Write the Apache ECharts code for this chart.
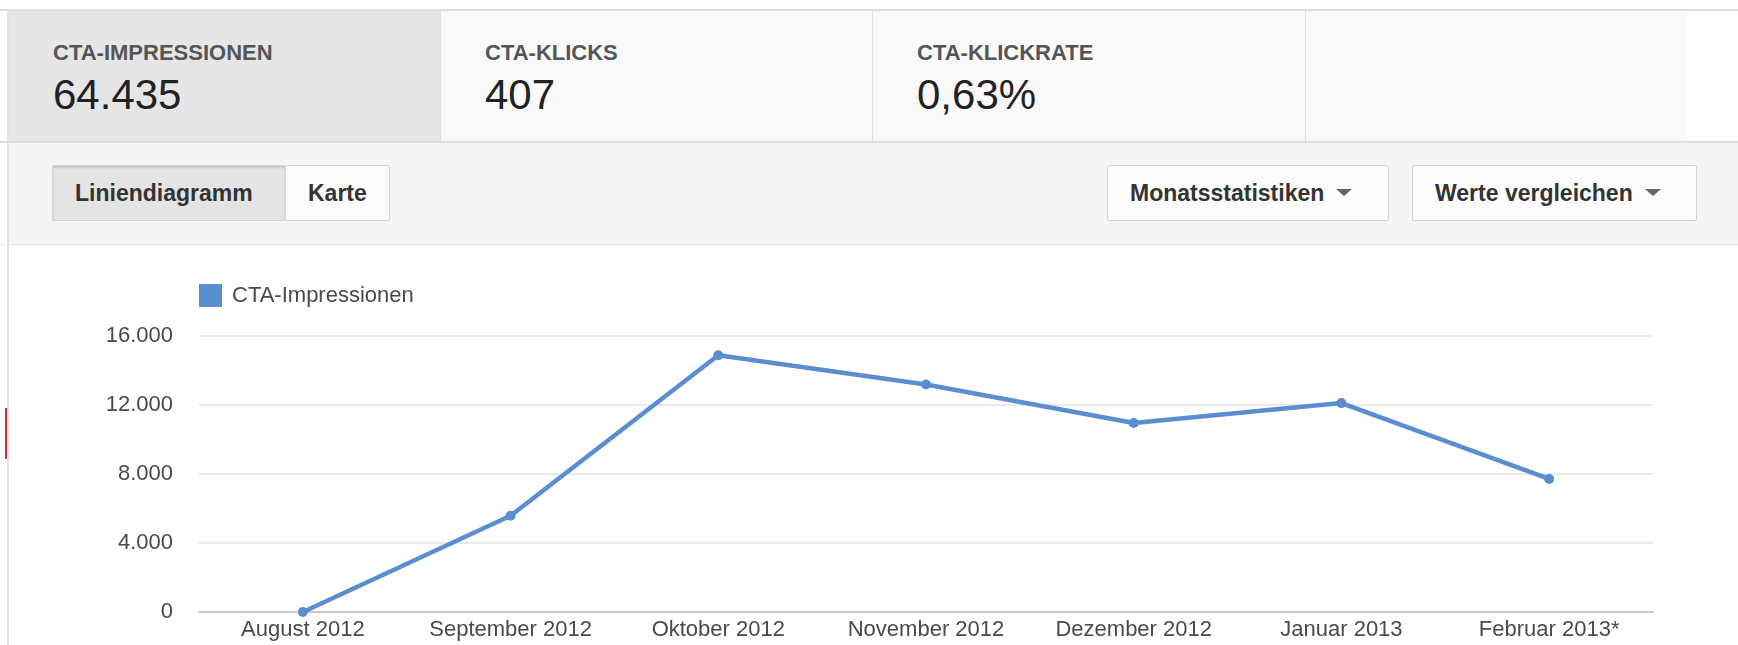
<!DOCTYPE html>
<html lang="de">
<head>
<meta charset="utf-8">
<title>CTA-Impressionen</title>
<script src="https://cdn.jsdelivr.net/npm/echarts@6/dist/echarts.min.js"></script>
<style>
  html, body { margin: 0; padding: 0; }
  body { width: 1738px; height: 645px; position: relative; overflow: hidden; background: #ffffff;
         font-family: "Liberation Sans", Arial, sans-serif; }
  .abs { position: absolute; }
  #topline { left: 0; top: 9px; width: 1738px; height: 2px; background: #dedede; }
  #leftline { left: 7px; top: 9px; width: 2px; height: 636px; background: #e2e2e2; z-index: 5; }
  #mark { left: 5px; top: 408px; width: 2px; height: 51px; background: #b8383a; z-index: 6; }
  #tabs { left: 9px; top: 11px; width: 1729px; height: 130px; background: #fdfdfd; }
  .tab { position: absolute; top: 0; height: 130px; background: #f9f9f9; border-right: 1px solid #e2e2e2; box-sizing: border-box; }
  .tab.last { border-right: none; }
  .tab.active { background: #e6e6e6; }
  .tab .lbl { position: absolute; left: 44px; top: 31px; font-size: 22px; line-height: 22px; font-weight: bold; color: #555; white-space: nowrap; }
  .tab .val { position: absolute; left: 44px; top: 63px; font-size: 42px; line-height: 42px; color: #222; white-space: nowrap; }
  #tabsep { left: 0; top: 141px; width: 1738px; height: 2px; background: #dcdcdc; }
  #toolbar { left: 9px; top: 143px; width: 1729px; height: 101px; background: #f5f5f5; }
  #toolsep { left: 0; top: 244px; width: 1738px; height: 1px; background: #e3e3e3; }
  .btn { position: absolute; top: 165px; height: 56px; box-sizing: border-box; border: 1px solid #d3d3d3;
         background: #fbfbfb; color: #333; font-weight: bold; font-size: 23px; line-height: 54px;
         white-space: nowrap; border-radius: 2px; }
  .btn.on { background: #e4e4e4; box-shadow: inset 0 2px 2px rgba(0,0,0,0.12); }
  .caret { display: inline-block; width: 0; height: 0; border-left: 8px solid transparent; border-right: 8px solid transparent;
           border-top: 7px solid #666; vertical-align: middle; margin-left: 12px; position: relative; top: -2px; }
  #chart { left: 0; top: 245px; width: 1738px; height: 400px; }
</style>
</head>
<body>
<div class="abs" id="topline"></div>
<div class="abs" id="tabs"></div>
<div class="abs" id="tabsep"></div>
<div class="abs" id="toolbar"></div>
<div class="abs" id="toolsep"></div>
<div class="abs" id="leftline"></div>
<div class="abs" id="mark"></div>
<div class="abs" id="chart"></div>

<script>
// Kennzahlen oben
var metricNames  = ['CTA-IMPRESSIONEN', 'CTA-KLICKS', 'CTA-KLICKRATE'];
var metricValues = ['64.435', '407', '0,63%'];

// Monatswerte der CTA-Impressionen
var months = ['August 2012', 'September 2012', 'Oktober 2012', 'November 2012',
              'Dezember 2012', 'Januar 2013', 'Februar 2013*'];
var impressions = [0, 5580, 14880, 13190, 10960, 12110, 7715];
var seriesName = 'CTA-Impressionen';

// Schaltflächen der Werkzeugleiste
var viewButtons = ['Liniendiagramm', 'Karte'];
var menuButtons = ['Monatsstatistiken', 'Werte vergleichen'];

// Kopfzeile mit den Kennzahl-Reitern
var tabs = document.getElementById('tabs');
var tabEdges = [0, 432, 864, 1297, 1678];
for (var i = 0; i < tabEdges.length - 1; i++) {
  var t = document.createElement('div');
  t.className = 'tab' + (i === 0 ? ' active' : '') + (i === tabEdges.length - 2 ? ' last' : '');
  t.style.left = tabEdges[i] + 'px';
  t.style.width = (tabEdges[i + 1] - tabEdges[i]) + 'px';
  if (i < metricNames.length) {
    t.innerHTML = '<div class="lbl">' + metricNames[i] + '</div><div class="val">' + metricValues[i] + '</div>';
  }
  tabs.appendChild(t);
}

// Schaltflächen
function addButton(text, left, width, cls, caret) {
  var b = document.createElement('div');
  b.className = 'btn' + (cls ? ' ' + cls : '');
  b.style.left = left + 'px';
  b.style.width = width + 'px';
  b.style.paddingLeft = '22px';
  b.innerHTML = text + (caret ? '<span class="caret"></span>' : '');
  document.body.appendChild(b);
}
addButton(viewButtons[0], 52, 234, 'on', false);
addButton(viewButtons[1], 285, 105, '', false);
addButton(menuButtons[0], 1107, 282, '', true);
addButton(menuButtons[1], 1412, 285, '', true);

// Liniendiagramm
var chart = echarts.init(document.getElementById('chart'), null, { renderer: 'canvas' });
var lineColor = '#5b8ed1';
var textColor = '#4a4a4a';
function dots(v) { return String(v).replace(/\B(?=(\d{3})+(?!\d))/g, '.'); }

chart.setOption({
  animation: false,
  backgroundColor: 'transparent',
  textStyle: { fontFamily: '"Liberation Sans", Arial, sans-serif' },
  legend: {
    left: 199, top: 39, padding: 0,
    icon: 'rect', itemWidth: 23, itemHeight: 23,
    textStyle: { fontSize: 22, color: textColor, padding: [0, 0, 0, 5] },
    data: [seriesName]
  },
  grid: { left: 199, right: 85, top: 91, bottom: 33, containLabel: false },
  xAxis: {
    type: 'category',
    data: months,
    boundaryGap: true,
    axisLine: { lineStyle: { color: '#c9c9c9', width: 2 } },
    axisTick: { show: false },
    axisLabel: { fontSize: 22, color: textColor, margin: 7, interval: 0 },
    splitLine: { show: false }
  },
  yAxis: {
    type: 'value',
    min: 0, max: 16000, interval: 4000,
    axisLine: { show: false },
    axisTick: { show: false },
    axisLabel: { fontSize: 22, color: textColor, margin: 26, formatter: dots },
    splitLine: { lineStyle: { color: '#ebebeb', width: 2 } }
  },
  series: [{
    name: seriesName,
    type: 'line',
    data: impressions,
    symbol: 'circle',
    symbolSize: 10,
    lineStyle: { color: lineColor, width: 4.5 },
    itemStyle: { color: lineColor }
  }]
});
</script>
</body>
</html>
